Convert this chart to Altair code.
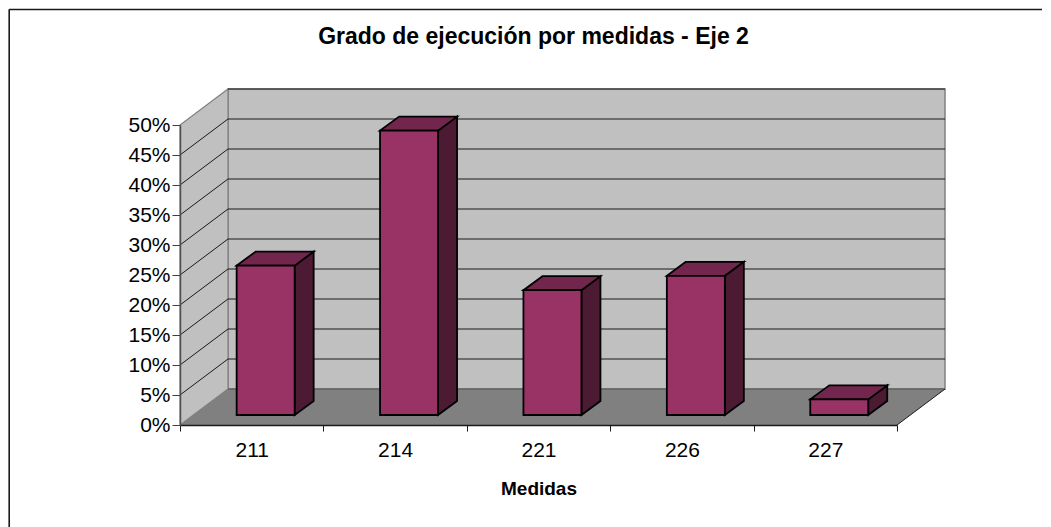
import altair as alt
import pandas as pd

medidas = ["211", "214", "221", "226", "227"]
valores = [0.249, 0.474, 0.208, 0.232, 0.026]
ticks_y = [i / 20 for i in range(11)]

# Scale factors (plot area is the front plane of the 3D box)
W, H = 717, 300
PXX = 5 / W
PXY = 0.5 / H
DX, DY = 48 * PXX, 36 * PXY          # box depth
BDX, BDY = 19 * PXX, 14 * PXY        # bar depth
BASE = 10 * PXY                      # bar foot above the front edge
OFF, BW = 0.395, 58 * PXX            # bar left offset and width

xs = alt.Scale(domain=[0, 5], nice=False, zero=False)
ys = alt.Scale(domain=[0, 0.5], nice=False, zero=False)

labels_js = "[" + ",".join(f"'{m}'" for m in medidas) + "]"
x_axis = alt.Axis(
    values=[i / 2 for i in range(11)],
    labelExpr=f"datum.value % 1 == 0 ? '' : {labels_js}[floor(datum.value)]",
    tickOpacity={"condition": {"test": "datum.value % 1 == 0", "value": 1}, "value": 0},
    tickSize=6, tickColor="#1a1a1a", domainColor="#1a1a1a", domainWidth=1.5, grid=False,
    labelFontSize=21, labelFont="Liberation Sans", labelColor="black", labelPadding=8,
    labelFlush=False, labelOverlap=False, labelAngle=0, zindex=1,
    titleFont="Liberation Sans", titleFontSize=19, titleFontWeight="bold", titleColor="black",
    titlePadding=19)
y_axis = alt.Axis(
    values=ticks_y, format=".0%",
    tickSize=8, tickColor="#404040", domainColor="#505050", domainWidth=1.5, grid=False,
    labelFontSize=21, labelFont="Liberation Sans", labelColor="black", labelPadding=2,
    labelFlush=False, labelOverlap=False, zindex=1)

X = lambda f="x": alt.X(f"{f}:Q", scale=xs, title="Medidas", axis=x_axis)
Y = lambda f="y": alt.Y(f"{f}:Q", scale=ys, title=None, axis=y_axis)
X2 = lambda f="x2": alt.X2(f"{f}:Q")
Y2 = lambda f="y2": alt.Y2(f"{f}:Q")

# Chart frame: only its top and left edges are in the picture
frame_df = pd.DataFrame([
    {"x": -170.8 * PXX, "x2": 862 * PXX, "y": 0.5 + 115.5 * PXY, "y2": 0.5 + 115.5 * PXY},
    {"x": -170.8 * PXX, "x2": -170.8 * PXX, "y": 0.5 + 115.8 * PXY, "y2": -102 * PXY},
])
frame = alt.Chart(frame_df).mark_rule(color="#1a1a1a", strokeWidth=1.6).encode(
    x=X(), x2=X2(), y=Y(), y2=Y2())

# Back wall
wall_df = pd.DataFrame([{"x": DX, "x2": 5 + DX, "y": DY, "y2": 0.5 + DY}])
wall = alt.Chart(wall_df).mark_rect(fill="#C0C0C0", stroke="#808080", strokeWidth=1.5).encode(
    x=X(), x2=X2(), y=Y(), y2=Y2())

# Left wall (vertical parallelogram)
left_df = pd.DataFrame([
    {"x": 0, "y": 0, "y2": 0.5},
    {"x": DX, "y": DY, "y2": 0.5 + DY},
])
left = alt.Chart(left_df).mark_area(fill="#C0C0C0", stroke="#808080", strokeWidth=1.2).encode(
    x=X(), y=Y(), y2=Y2())

# Floor (horizontal parallelogram)
floor_df = pd.DataFrame([
    {"y": 0, "x": 0, "x2": 5},
    {"y": DY, "x": DX, "x2": 5 + DX},
])
floor = alt.Chart(floor_df).mark_area(orient="horizontal", fill="#808080").encode(
    y=Y(), x=X(), x2=X2())

# Gridlines, on the back and left walls
grid_df = pd.DataFrame(
    [{"x": DX, "x2": 5 + DX, "y": v + DY, "y2": v + DY} for v in ticks_y[1:]]
    + [{"x": 0, "x2": DX, "y": v, "y2": v + DY} for v in ticks_y[1:-1]]
)
grid = alt.Chart(grid_df).mark_rule(color="#1a1a1a", strokeWidth=1).encode(
    x=X(), x2=X2(), y=Y(), y2=Y2())

# Edges of the floor
edge_df = pd.DataFrame([
    {"x": DX, "x2": 5 + DX, "y": DY, "y2": DY, "c": "#505050"},
    {"x": 5, "x2": 5 + DX, "y": 0, "y2": DY, "c": "#1a1a1a"},
])
edges = alt.Chart(edge_df).mark_rule(strokeWidth=1).encode(
    x=X(), x2=X2(), y=Y(), y2=Y2(), color=alt.Color("c:N", scale=None))

# Bars
front_rows, side_rows, top_rows = [], [], []
for i, (m, v) in enumerate(zip(medidas, valores)):
    x0 = i + OFF
    x1 = x0 + BW
    t = BASE + v
    front_rows.append({"m": m, "x": x0, "x2": x1, "y": BASE, "y2": t})
    side_rows += [
        {"m": m, "x": x1, "y": BASE, "y2": t},
        {"m": m, "x": x1 + BDX, "y": BASE + BDY, "y2": t + BDY},
    ]
    top_rows += [
        {"m": m, "y": t, "x": x0, "x2": x1},
        {"m": m, "y": t + BDY, "x": x0 + BDX, "x2": x1 + BDX},
    ]

BAR = dict(stroke="black", strokeWidth=1.8, strokeJoin="miter")
sides = alt.Chart(pd.DataFrame(side_rows)).mark_area(fill="#4D1A33", **BAR).encode(
    x=X(), y=Y(), y2=Y2(), detail="m:N")
tops = alt.Chart(pd.DataFrame(top_rows)).mark_area(orient="horizontal", fill="#73264D", **BAR).encode(
    y=Y(), x=X(), x2=X2(), detail="m:N")
fronts = alt.Chart(pd.DataFrame(front_rows)).mark_rect(fill="#993366", **BAR).encode(
    x=X(), x2=X2(), y=Y(), y2=Y2())

chart = alt.layer(frame, wall, left, floor, grid, edges, sides, tops, fronts).properties(
    width=W, height=H,
    padding=0,
    title=alt.TitleParams(
        "Grado de ejecución por medidas - Eje 2",
        font="Liberation Sans", fontSize=23, fontWeight="bold", color="black",
        anchor="middle", dx=-5, offset=-41),
).configure_view(stroke=None).configure(background="white")

chart.save("out.html", embed_options={"renderer": "svg", "actions": False})
